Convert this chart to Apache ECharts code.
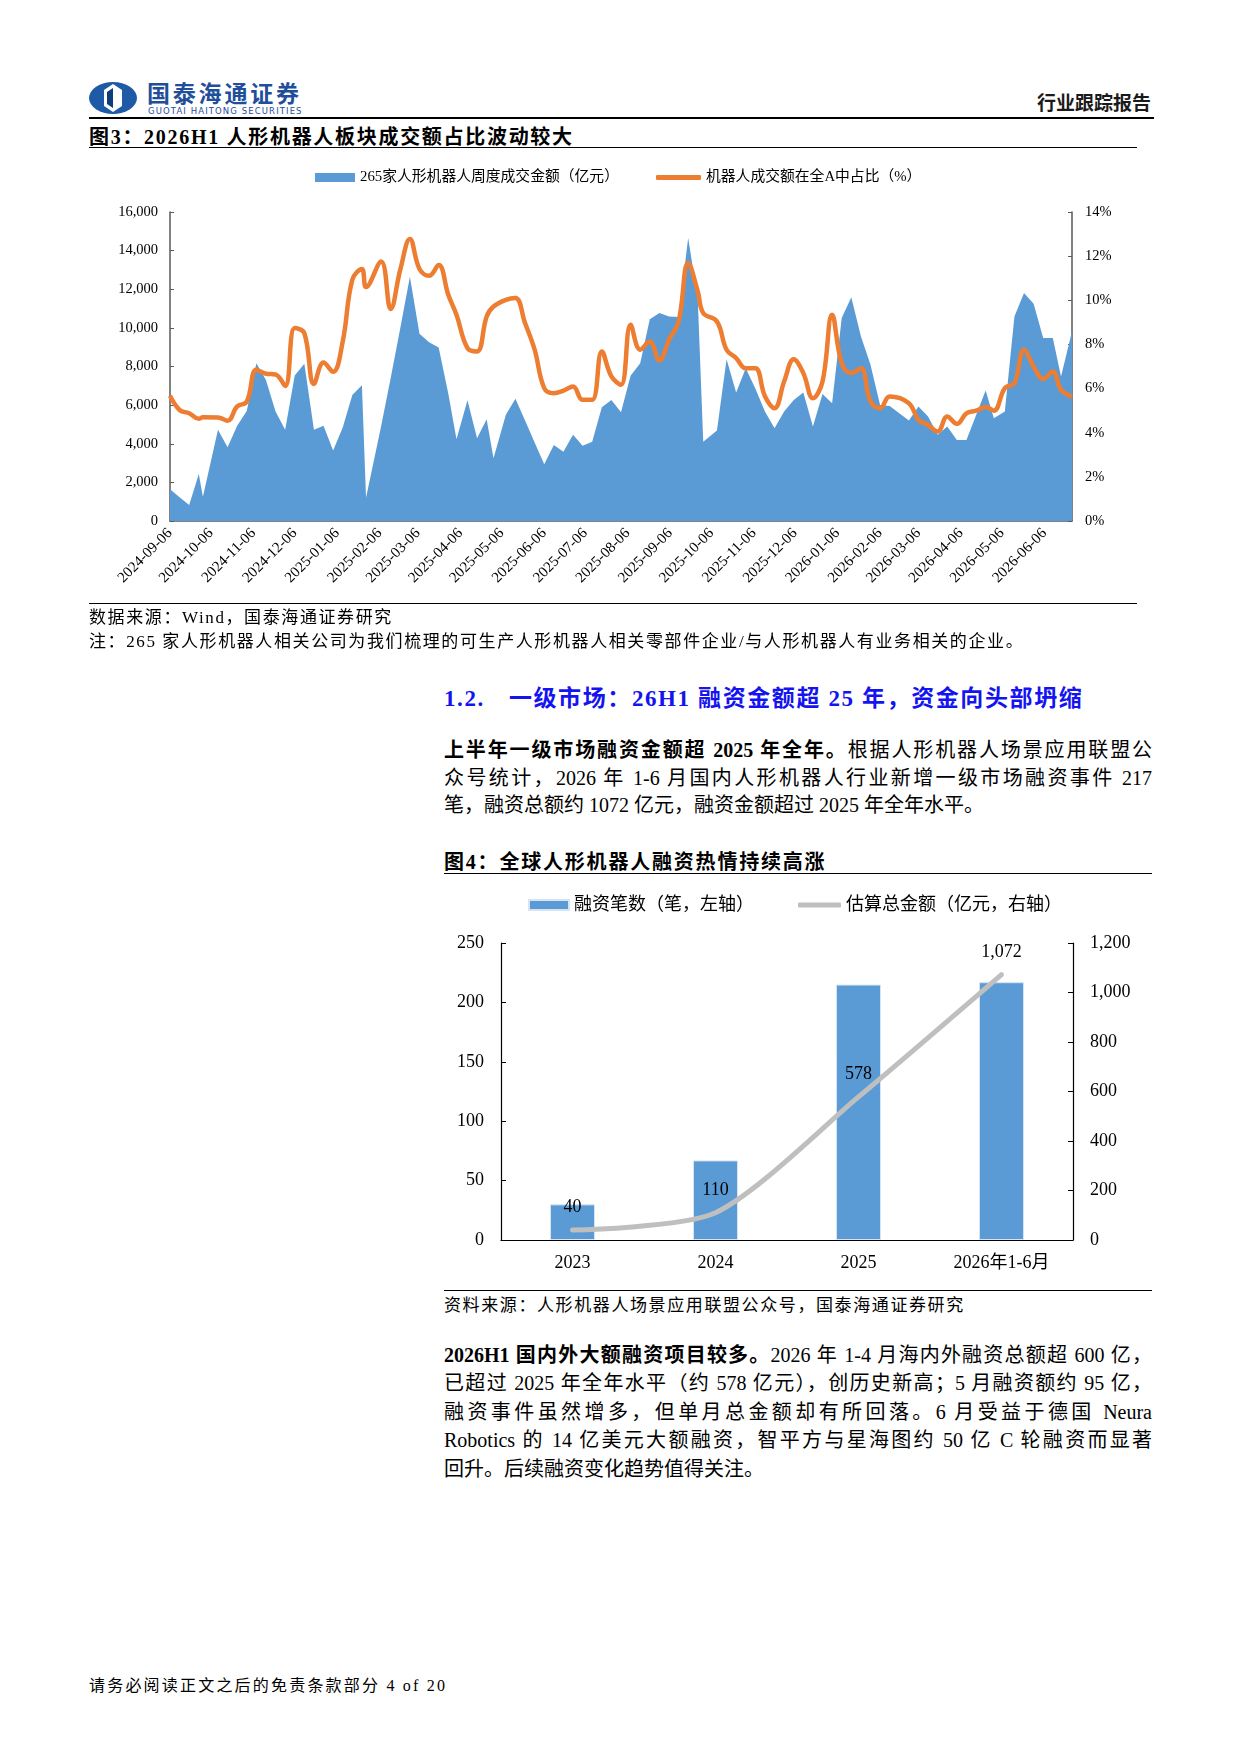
<!DOCTYPE html>
<html>
<head>
<meta charset="utf-8">
<script src="https://cdn.jsdelivr.net/npm/echarts@6/dist/echarts.min.js"></script>
<style>
  body { margin: 0; }
  #page {
    position: relative; width: 1240px; height: 1753px; background: #fff; overflow: hidden;
    font-family: 'Liberation Serif', 'Noto Sans CJK SC', serif; color: #000;
  }
  .t { position: absolute; white-space: nowrap; }
  .rule { position: absolute; background: #000; }
  .para { position: absolute; left: 444px; width: 708px; height: 28px; line-height: 28px; font-size: 20px; white-space: nowrap; }
  .just { text-align: justify; text-align-last: justify; }
  .figtitle { font-size: 20px; font-weight: bold; letter-spacing: 1.7px; }
  .src { font-size: 17px; letter-spacing: 1.6px; }
  b { font-weight: bold; }
</style>
</head>
<body>
<div id="page">
  <!-- 页眉 -->
  <svg class="t" style="left:88px;top:81px" width="50" height="34" viewBox="0 0 50 34">
    <ellipse cx="25" cy="17" rx="24" ry="16" fill="#1f5aa6"/>
    <path d="M25 3 L34 9 L34 25 L25 31 L16 25 L16 9 Z" fill="#fff"/>
    <path d="M25 7 L25 27 L19 23 L19 11 Z" fill="#0f3d7a"/>
  </svg>
  <div class="t" style="left:147px;top:82px;font-size:23px;line-height:26px;font-weight:bold;color:#1f4e9a;letter-spacing:2.8px">国泰海通证券</div>
  <div class="t" style="left:148px;top:106px;font-size:8.5px;line-height:10px;color:#1f4e9a;letter-spacing:1.1px;font-family:'DejaVu Sans',sans-serif">GUOTAI HAITONG SECURITIES</div>
  <div class="t" style="left:1037px;top:88px;font-size:19px;font-weight:bold;color:#1a1a1a">行业跟踪报告</div>
  <div class="rule" style="left:89px;top:117px;width:1065px;height:2px"></div>

  <div class="t figtitle" style="left:89px;top:121px">图3：2026H1 人形机器人板块成交额占比波动较大</div>
  <div class="rule" style="left:89px;top:147px;width:1048px;height:1px"></div>

  <div id="chart1" style="position:absolute;left:80px;top:160px;width:1080px;height:445px"></div>

  <div class="rule" style="left:89px;top:603px;width:1048px;height:1px"></div>
  <div class="t src" style="left:89px;top:603px">数据来源：Wind，国泰海通证券研究</div>
  <div class="t src" style="left:89px;top:627px">注：265 家人形机器人相关公司为我们梳理的可生产人形机器人相关零部件企业/与人形机器人有业务相关的企业。</div>

  <!-- 1.2 小节 -->
  <div class="t" style="left:444px;top:679px;font-size:23px;font-weight:bold;color:#1414f0;letter-spacing:1.6px"><span style="margin-right:24px">1.2.</span>一级市场：26H1 融资金额超 25 年，资金向头部坍缩</div>

  <div class="para just" style="top:736px"><b>上半年一级市场融资金额超 2025 年全年。</b>根据人形机器人场景应用联盟公</div>
  <div class="para just" style="top:764px">众号统计，2026 年 1-6 月国内人形机器人行业新增一级市场融资事件 217</div>
  <div class="para" style="top:791px">笔，融资总额约 1072 亿元，融资金额超过 2025 年全年水平。</div>

  <div class="t figtitle" style="left:444px;top:846px;letter-spacing:1.8px">图4：全球人形机器人融资热情持续高涨</div>
  <div class="rule" style="left:444px;top:873px;width:708px;height:1px"></div>

  <div id="chart2" style="position:absolute;left:444px;top:880px;width:716px;height:400px"></div>

  <div class="rule" style="left:444px;top:1290px;width:708px;height:1px"></div>
  <div class="t src" style="left:444px;top:1291px">资料来源：人形机器人场景应用联盟公众号，国泰海通证券研究</div>

  <div class="para just" style="top:1341px"><b>2026H1 国内外大额融资项目较多。</b>2026 年 1-4 月海内外融资总额超 600 亿，</div>
  <div class="para just" style="top:1369px">已超过 2025 年全年水平（约 578 亿元），创历史新高；5 月融资额约 95 亿，</div>
  <div class="para just" style="top:1398px">融资事件虽然增多，但单月总金额却有所回落。6 月受益于德国 Neura</div>
  <div class="para just" style="top:1426px">Robotics 的 14 亿美元大额融资，智平方与星海图约 50 亿 C 轮融资而显著</div>
  <div class="para" style="top:1455px">回升。后续融资变化趋势值得关注。</div>

  <div class="t" style="left:89px;top:1672px;font-size:16px;letter-spacing:2.2px">请务必阅读正文之后的免责条款部分 4 of 20</div>
</div>

<script>
  const FONT = "'Liberation Serif', 'Noto Sans CJK SC', serif";

  // 图3：周度数据
  const weekDates = [
    '2024-09-06', '2024-09-13', '2024-09-20', '2024-09-27', '2024-09-30', '2024-10-11', '2024-10-18', '2024-10-25',
    '2024-11-01', '2024-11-08', '2024-11-15', '2024-11-22', '2024-11-29', '2024-12-06', '2024-12-13', '2024-12-20',
    '2024-12-27', '2025-01-03', '2025-01-10', '2025-01-17', '2025-01-24', '2025-01-27', '2025-02-07', '2025-02-14',
    '2025-02-21', '2025-02-28', '2025-03-07', '2025-03-14', '2025-03-21', '2025-03-28', '2025-04-03', '2025-04-11',
    '2025-04-18', '2025-04-25', '2025-04-30', '2025-05-09', '2025-05-16', '2025-05-23', '2025-05-30', '2025-06-06',
    '2025-06-13', '2025-06-20', '2025-06-27', '2025-07-04', '2025-07-11', '2025-07-18', '2025-07-25', '2025-08-01',
    '2025-08-08', '2025-08-15', '2025-08-22', '2025-08-29', '2025-09-05', '2025-09-12', '2025-09-19', '2025-09-26',
    '2025-09-30', '2025-10-10', '2025-10-17', '2025-10-24', '2025-10-31', '2025-11-07', '2025-11-14', '2025-11-21',
    '2025-11-28', '2025-12-05', '2025-12-12', '2025-12-19', '2025-12-26', '2026-01-02', '2026-01-09', '2026-01-16',
    '2026-01-23', '2026-01-30', '2026-02-06', '2026-02-13', '2026-02-27', '2026-03-06', '2026-03-13', '2026-03-20',
    '2026-03-27', '2026-04-03', '2026-04-10', '2026-04-17', '2026-04-24', '2026-04-30', '2026-05-08', '2026-05-15',
    '2026-05-22', '2026-05-29', '2026-06-05', '2026-06-12', '2026-06-18', '2026-06-26'
  ];
  // 265家人形机器人周度成交金额（亿元）
  const robotTurnover = [
    1640, 1230, 830, 2440, 1260, 4720, 3820, 4930,
    5700, 8170, 7300, 5670, 4720, 7530, 8140, 4720,
    4930, 3650, 4840, 6530, 7030, 1210, 4900, 7400,
    10000, 12650, 9690, 9250, 8990, 6600, 4230, 6250,
    4290, 5270, 3250, 5500, 6330, 5210, 4060, 2940,
    3940, 3590, 4460, 3890, 4110, 5890, 6270, 5630,
    7520, 8170, 10450, 10770, 10590, 10560, 14650, 11500,
    4110, 4680, 8380, 6650, 7910, 6860, 5670, 4800,
    5670, 6270, 6650, 4890, 6570, 6100, 10510, 11580,
    9560, 8090, 6010, 5960, 5200, 5930, 5410, 4460,
    4890, 4200, 4200, 5480, 6760, 5320, 5670, 10590,
    11800, 11250, 9470, 9470, 7480, 9820
  ];
  // 机器人成交额在全A中占比（%）
  const robotShare = [
    5.67, 5.03, 4.88, 4.63, 4.70, 4.69, 4.54, 5.19,
    5.41, 6.85, 6.67, 6.64, 6.12, 8.74, 8.51, 6.21,
    7.18, 6.76, 8.13, 10.93, 11.42, 10.60, 11.76, 9.60,
    11.39, 12.78, 11.42, 11.11, 11.60, 10.25, 9.34, 7.83,
    7.68, 9.27, 9.72, 10.02, 10.10, 8.97, 7.76, 6.02,
    5.79, 5.91, 6.09, 5.49, 5.49, 7.68, 6.55, 6.17,
    8.89, 7.76, 8.13, 7.27, 8.21, 9.04, 11.69, 10.40,
    9.42, 9.04, 7.76, 7.38, 6.92, 6.92, 5.65, 5.11,
    6.32, 7.33, 6.70, 5.56, 6.32, 9.34, 7.15, 6.70,
    6.92, 5.41, 5.11, 5.64, 5.34, 4.58, 4.35, 4.05,
    4.73, 4.40, 4.88, 5.00, 5.16, 5.00, 6.02, 6.25,
    7.76, 7.00, 6.43, 6.77, 5.94, 5.64
  ];
  const monthTicks = [
    '2024-09-06', '2024-10-06', '2024-11-06', '2024-12-06', '2025-01-06', '2025-02-06', '2025-03-06', '2025-04-06',
    '2025-05-06', '2025-06-06', '2025-07-06', '2025-08-06', '2025-09-06', '2025-10-06', '2025-11-06', '2025-12-06',
    '2026-01-06', '2026-02-06', '2026-03-06', '2026-04-06', '2026-05-06', '2026-06-06'
  ];

  // 图4：融资数据
  const fundYears = ['2023', '2024', '2025', '2026年1-6月'];
  const dealCounts = [30, 67, 215, 217];
  const fundAmounts = [40, 110, 578, 1072];

  // 日期按天计（UTC），x轴用数值轴
  const toDay = s => Date.UTC(+s.slice(0, 4), +s.slice(5, 7) - 1, +s.slice(8, 10)) / 86400000;
  const tickValues = monthTicks.map(toDay);
  const thousands = v => Number(v).toLocaleString('en-US');

  const chart2 = echarts.init(document.getElementById('chart2'));
  const nameC = '融资笔数（笔，左轴）';
  const nameD = '估算总金额（亿元，右轴）';

  chart2.setOption({
    animation: false,
    textStyle: { fontFamily: FONT },
    legend: [
      {
        data: [{ name: nameC, icon: 'rect' }],
        left: 79, top: 11, itemWidth: 40, itemHeight: 10, selectedMode: false,
        textStyle: { fontSize: 18, color: '#000', fontFamily: FONT }
      },
      {
        data: [{ name: nameD, icon: 'roundRect' }],
        left: 349, top: 11, itemWidth: 43, itemHeight: 5, selectedMode: false,
        textStyle: { fontSize: 18, color: '#000', fontFamily: FONT }
      }
    ],
    grid: { left: 57, right: 87, top: 63, bottom: 40 },
    xAxis: {
      type: 'category', data: fundYears,
      axisLine: { lineStyle: { color: '#000', width: 1.2 } },
      axisTick: { inside: true, length: 5, lineStyle: { color: '#000' } },
      axisLabel: { fontSize: 18, margin: 14, color: '#000', fontFamily: FONT }
    },
    yAxis: [
      {
        type: 'value', min: 0, max: 250, interval: 50,
        axisLine: { show: true, lineStyle: { color: '#000', width: 1.2 } },
        axisTick: { show: true, inside: true, length: 5, lineStyle: { color: '#000' } },
        axisLabel: { margin: 17, fontSize: 18, color: '#000', fontFamily: FONT },
        splitLine: { show: false }
      },
      {
        type: 'value', min: 0, max: 1200, interval: 200,
        axisLine: { show: true, lineStyle: { color: '#000', width: 1.2 } },
        axisTick: { show: true, inside: true, length: 5, lineStyle: { color: '#000' } },
        axisLabel: { formatter: thousands, margin: 17, fontSize: 18, color: '#000', fontFamily: FONT },
        splitLine: { show: false }
      }
    ],
    series: [
      {
        name: nameC, type: 'bar', data: dealCounts, barWidth: 45,
        itemStyle: { color: '#5B9BD5', borderColor: '#d6e4f3', borderWidth: 1 }
      },
      {
        name: nameD, type: 'line', yAxisIndex: 1, data: fundAmounts, smooth: 0.25,
        symbol: 'circle', symbolSize: 1,
        itemStyle: { color: '#BFBFBF' },
        lineStyle: { width: 5, color: '#BFBFBF', cap: 'round' },
        label: {
          show: true, position: 'top', distance: 13, fontSize: 18, color: '#000', fontFamily: FONT,
          formatter: p => thousands(p.value)
        }
      }
    ]
  });

  const chart1 = echarts.init(document.getElementById('chart1'));
  const nameA = '265家人形机器人周度成交金额（亿元）';
  const nameB = '机器人成交额在全A中占比（%）';
  const axisColor = '#595959';

  chart1.setOption({
    animation: false,
    textStyle: { fontFamily: FONT },
    legend: [
      {
        data: [{ name: nameA, icon: 'rect' }],
        left: 230, top: 5, itemWidth: 40, itemHeight: 9, selectedMode: false,
        textStyle: { fontSize: 14.8, color: '#000', fontFamily: FONT }
      },
      {
        data: [{ name: nameB, icon: 'roundRect' }],
        left: 571, top: 5, itemWidth: 45, itemHeight: 5, selectedMode: false,
        textStyle: { fontSize: 14.8, color: '#000', fontFamily: FONT }
      }
    ],
    grid: { left: 90, right: 88, top: 52, bottom: 84 },
    xAxis: {
      type: 'value',
      min: toDay(weekDates[0]),
      max: toDay(weekDates[weekDates.length - 1]),
      axisLine: { lineStyle: { color: axisColor, width: 1.5 } },
      axisTick: { show: true, inside: true, length: 4, customValues: tickValues, lineStyle: { color: axisColor } },
      axisLabel: {
        customValues: tickValues,
        rotate: 45, margin: 10, fontSize: 15, color: '#000', fontFamily: FONT,
        formatter: v => {
          const i = tickValues.indexOf(v);
          return i >= 0 ? monthTicks[i] : '';
        }
      },
      splitLine: { show: false }
    },
    yAxis: [
      {
        type: 'value', min: 0, max: 16000, interval: 2000, position: 'left',
        axisLine: { show: true, lineStyle: { color: axisColor, width: 1.5 } },
        axisTick: { show: true, inside: true, length: 4, lineStyle: { color: axisColor } },
        axisLabel: { formatter: thousands, margin: 12, fontSize: 14.5, color: '#000', fontFamily: FONT },
        splitLine: { show: false }
      },
      {
        type: 'value', min: 0, max: 14, interval: 2, position: 'right',
        axisLine: { show: true, lineStyle: { color: axisColor, width: 1.5 } },
        axisTick: { show: true, inside: true, length: 4, lineStyle: { color: axisColor } },
        axisLabel: { formatter: '{value}%', margin: 13, fontSize: 14.5, color: '#000', fontFamily: FONT },
        splitLine: { show: false }
      }
    ],
    series: [
      {
        name: nameA, type: 'line', yAxisIndex: 0, z: 2,
        data: weekDates.map((d, i) => [toDay(d), robotTurnover[i]]),
        symbol: 'none',
        lineStyle: { width: 0 },
        itemStyle: { color: '#5B9BD5' },
        areaStyle: { color: '#5B9BD5', opacity: 1 }
      },
      {
        name: nameB, type: 'line', yAxisIndex: 1, z: 3,
        data: weekDates.map((d, i) => [toDay(d), robotShare[i]]),
        smooth: 0.4, symbol: 'none',
        lineStyle: { width: 4.5, color: '#ED7D31' },
        itemStyle: { color: '#ED7D31' }
      }
    ]
  });
</script>
</body>
</html>
